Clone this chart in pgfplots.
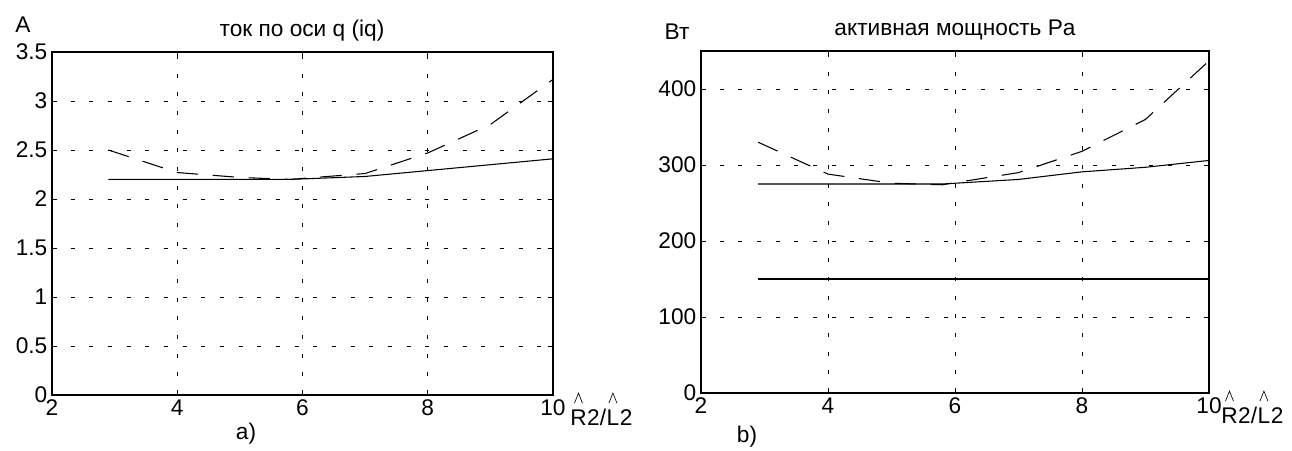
\documentclass[border=0pt]{standalone}
\usepackage{pgfplots}
\pgfplotsset{compat=1.18}
\usepackage{fontspec}
\setmainfont{Liberation Sans}

\newcommand\fs{\fontsize{17}{19}\selectfont}

% caret-topped axis label, as MATLAB draws R2/L2 with hats
\newcommand\rlab[2]{%
  \node[anchor=base west,inner sep=0pt,font=\fs] (r) at (#1,#2) {R};
  \node[anchor=base west,inner sep=0pt,font=\fs] (rr) at (r.base east) {2/};
  \node[anchor=base west,inner sep=0pt,font=\fs] (l) at (rr.base east) {L};
  \node[anchor=base west,inner sep=0pt,font=\fs] at (l.base east) {2};
  \draw[line width=0.5pt] ([xshift=-3pt,yshift=4.5pt]r.north) -- ++(3pt,7.5pt) -- ++(3pt,-7.5pt);
  \draw[line width=0.5pt] ([xshift=-3pt,yshift=4.5pt]l.north) -- ++(3pt,7.5pt) -- ++(3pt,-7.5pt);
}

\pgfplotsset{
  mstyle/.style={
    scale only axis,
    xmin=2, xmax=10, xtick={2,4,...,10},
    grid=major,
    major grid style={black, line width=0.6pt, dash pattern=on 3pt off 11pt},
    axis line style={line width=1.1pt},
    tick align=inside, major tick length=4pt,
    tick style={black, line width=0.6pt},
    /pgf/number format/assume math mode=true,
    tick label style={font=\fs},
  },
  sline/.style={black, line width=0.8pt},
  dline/.style={black, line width=0.8pt, dash pattern=on 16pt off 11pt},
}

\begin{document}
\begin{tikzpicture}
\useasboundingbox (0,0) rectangle (969pt,337.5pt);

\begin{axis}[mstyle,
    at={(39pt,41.25pt)}, anchor=south west,
    width=375.75pt, height=257.25pt,
    ymin=0, ymax=3.5, ytick={0,0.5,...,3.5}]
  \addplot[sline] coordinates {
    (2.9,2.2) (4,2.2) (5,2.2) (5.8,2.2) (7,2.23) (8,2.29) (9,2.35) (10,2.41)
  };
  \addplot[dline] coordinates {
    (2.9,2.5) (4,2.27) (5,2.22) (5.8,2.2) (7,2.26) (8,2.47) (9,2.76) (10,3.22)
  };
\end{axis}

\begin{axis}[mstyle,
    at={(525.75pt,42.75pt)}, anchor=south west,
    width=381pt, height=256.5pt,
    ymin=0, ymax=450, ytick={0,100,...,400}]
  \addplot[sline] coordinates {
    (2.9,275) (4,275) (5,275) (5.8,275) (7,281) (8,291) (9,297) (10,306)
  };
  \addplot[sline] coordinates {
    (2.9,150) (4,150) (6,150) (8,150) (10,150)
  };
  \addplot[dline] coordinates {
    (2.9,330) (4,288) (5,276) (5.8,274) (7,290) (8,318) (9,360) (10,437)
  };
\end{axis}

% titles and unit labels
\node[anchor=base,font=\fs] at (226.5pt,309.75pt) {ток по оси q (iq)};
\node[anchor=base,font=\fs] at (716.25pt,310.5pt) {активная мощность Pa};
\node[anchor=base,font=\fs] at (17.25pt,312.75pt) {A};
\node[anchor=base,font=\fs] at (507.75pt,307.5pt) {Вт};
\node[font=\fs] at (184.5pt,12pt) {a)};
\node[font=\fs] at (560.25pt,9.75pt) {b)};
\rlab{427.5pt}{18.75pt}
\rlab{915.75pt}{20.25pt}
\end{tikzpicture}
\end{document}
